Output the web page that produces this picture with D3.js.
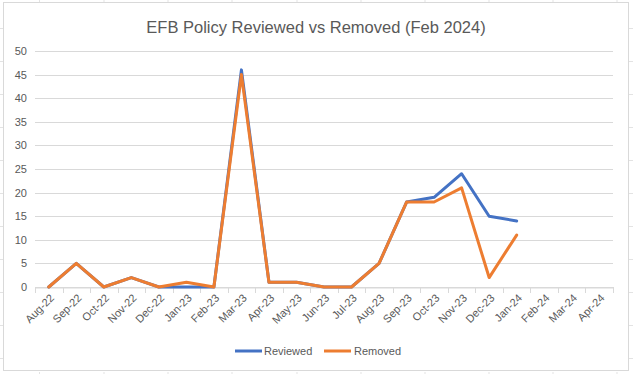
<!DOCTYPE html>
<html><head><meta charset="utf-8">
<script src="https://cdn.jsdelivr.net/npm/d3@7"></script>
<style>body{margin:0;background:#fff}svg{display:block}</style>
</head><body>
<script>
const months = ["Aug-22","Sep-22","Oct-22","Nov-22","Dec-22","Jan-23","Feb-23","Mar-23","Apr-23","May-23","Jun-23","Jul-23","Aug-23","Sep-23","Oct-23","Nov-23","Dec-23","Jan-24","Feb-24","Mar-24","Apr-24"];
const reviewed = [0,5,0,2,0,0,0,46,1,1,0,0,5,18,19,24,15,14,null,null,null];
const removed  = [0,5,0,2,0,1,0,45,1,1,0,0,5,18,18,21,2,11,null,null,null];
const yTicks = [0,5,10,15,20,25,30,35,40,45,50];
const seriesNames = ["Reviewed","Removed"];
const colors = ["#4472C4","#ED7D31"];

const W=633,H=374;
const svg=d3.select("body").append("svg").attr("width",W).attr("height",H);
const font="Liberation Sans, Arial, sans-serif";

// spreadsheet gridlines outside chart
const g0=svg.append("g").attr("stroke","#e3e3e3").attr("stroke-width",1);
d3.range(28,374,33).forEach(y=>{
  g0.append("line").attr("x1",0).attr("x2",3).attr("y1",y+0.5).attr("y2",y+0.5);
  g0.append("line").attr("x1",629).attr("x2",633).attr("y1",y+0.5).attr("y2",y+0.5);
});
[39.5,104,168,232,297,361,425,489,553,617].forEach(x=>{
  g0.append("line").attr("x1",x).attr("x2",x).attr("y1",0).attr("y2",2);
  g0.append("line").attr("x1",x).attr("x2",x).attr("y1",372).attr("y2",374);
});
svg.append("rect").attr("x",3.5).attr("y",2.5).attr("width",625).attr("height",368)
  .attr("fill","#fff").attr("stroke","#d9d9d9");

const x=d3.scaleBand().domain(months).range([35,613]);
const y=d3.scaleLinear().domain([0,50]).range([287,51]);

// gridlines
svg.append("g").selectAll("line").data(yTicks).join("line")
  .attr("x1",35).attr("x2",613).attr("y1",d=>Math.round(y(d))+0.5).attr("y2",d=>Math.round(y(d))+0.5)
  .attr("stroke","#d9d9d9").attr("stroke-width",1);

// y axis labels
const ya=svg.append("g").attr("transform","translate(27,0)")
  .call(d3.axisLeft(y).tickValues(yTicks).tickSize(0).tickPadding(0));
ya.select(".domain").remove();
ya.selectAll("text").attr("font-family",font).attr("font-size",11).attr("fill","#595959");

// x axis
const xa=svg.append("g").attr("transform","translate(0,287.5)")
  .call(d3.axisBottom(x).tickSize(0));
xa.select(".domain").attr("stroke","#d9d9d9");
xa.selectAll("text").attr("font-family",font).attr("font-size",11).attr("fill","#595959")
  .attr("text-anchor","end").attr("dy",0)
  .attr("transform","translate(4,9) rotate(-45)");
// tick marks between categories
svg.append("g").selectAll("line").data(d3.range(months.length+1)).join("line")
  .attr("x1",i=>Math.round(35+i*x.step())+0.5).attr("x2",i=>Math.round(35+i*x.step())+0.5)
  .attr("y1",287).attr("y2",293).attr("stroke","#d9d9d9");

const line=d3.line().defined(d=>d!=null).x((d,i)=>x(months[i])+x.bandwidth()/2).y(d=>y(d));
[reviewed,removed].forEach((s,k)=>{
  svg.append("path").datum(s).attr("d",line).attr("fill","none")
    .attr("stroke",colors[k]).attr("stroke-width",3).attr("stroke-linejoin","round").attr("stroke-linecap","round");
});

// title
svg.append("text").attr("x",316).attr("y",33).attr("text-anchor","middle")
  .attr("font-family",font).attr("font-size",16.5).attr("fill","#595959")
  .text("EFB Policy Reviewed vs Removed (Feb 2024)");

// legend
const lg=[{x:235,tx:264},{x:324,tx:354}];
seriesNames.forEach((n,k)=>{
  svg.append("line").attr("x1",lg[k].x).attr("x2",lg[k].x+27).attr("y1",351).attr("y2",351)
    .attr("stroke",colors[k]).attr("stroke-width",3);
  svg.append("text").attr("x",lg[k].tx).attr("y",355).attr("font-family",font).attr("font-size",11)
    .attr("fill","#595959").text(n);
});
</script>
</body></html>
